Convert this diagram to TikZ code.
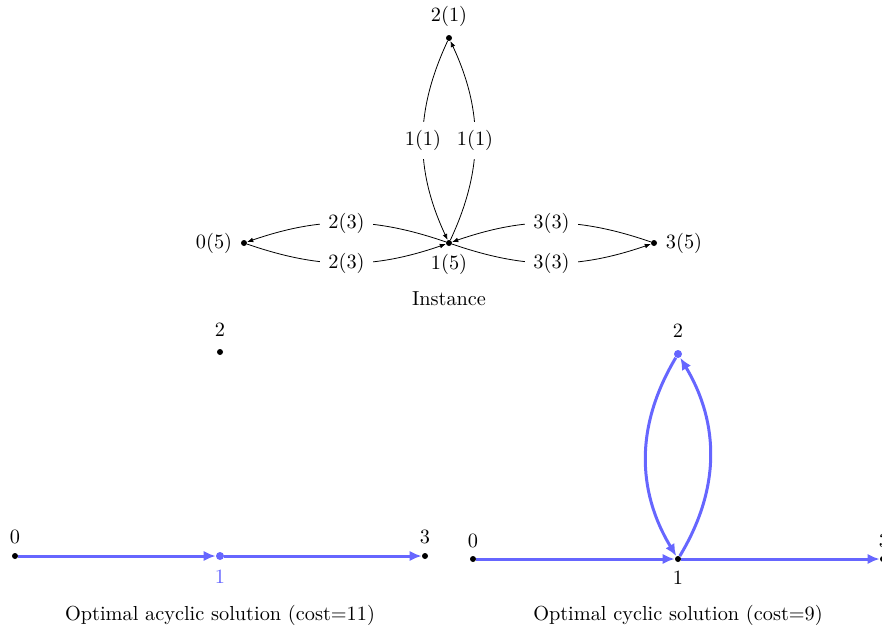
\documentclass[tikz,border=0pt]{standalone}
\usetikzlibrary{arrows.meta,backgrounds}
\definecolor{solblue}{RGB}{102,102,255}
\begin{document}
\begin{tikzpicture}[x=0.5pt,y=-0.5pt,font=\fontsize{10.15}{12}\selectfont,
  dot/.style={circle,fill=black,inner sep=0pt,minimum size=3pt},
  bdot/.style={circle,fill=solblue,inner sep=0pt,minimum size=4pt},
  txt/.style={inner sep=0pt},
  inst/.style={-{Latex[length=3pt,width=2.4pt]}},
  elbl/.style={fill=white,inner sep=4pt},
  sol/.style={solblue,line width=1.5pt,-{Latex[length=6pt,width=5.2pt]}}]
\useasboundingbox (0,0) rectangle (882,632);
% Instance
\node[dot] (n0) at (244,243) {};
\node[dot] (n1) at (449,243) {};
\node[dot] (n2) at (449,38) {};
\node[dot] (n3) at (654,243) {};
\node[txt] (t0) at (214,243) {0(5)};
\node[txt] (t1) at (449,264) {1(5)};
\node[txt] (t2) at (449,16) {2(1)};
\node[txt] (t3) at (684,243) {3(5)};
\node[txt] (cap1) at (449,299) {Instance};
\begin{pgfonlayer}{background}
\draw[inst] (n2) to[bend right=25] node[elbl]{1(1)} (n1);
\draw[inst] (n1) to[bend right=25] node[elbl]{1(1)} (n2);
\draw[inst] (n1) to[bend right=19] node[elbl]{2(3)} (n0);
\draw[inst] (n0) to[bend right=19] node[elbl]{2(3)} (n1);
\draw[inst] (n3) to[bend right=19] node[elbl]{3(3)} (n1);
\draw[inst] (n1) to[bend right=19] node[elbl]{3(3)} (n3);
\end{pgfonlayer}
% Acyclic solution
\node[dot] (a0) at (15,556) {};
\node[bdot] (a1) at (220,556) {};
\node[dot] (a2) at (220,352) {};
\node[dot] (a3) at (425,556) {};
\node[txt] (s0) at (15,537) {0};
\node[txt,text=solblue] (s1) at (220,577) {1};
\node[txt] (s2) at (220,330) {2};
\node[txt] (s3) at (425,537) {3};
\node[txt] (cap2) at (220,615) {Optimal acyclic solution (cost=11)};
\begin{pgfonlayer}{background}
\draw[sol] (a0) -- (a1);
\draw[sol] (a1) -- (a3);
\end{pgfonlayer}
% Cyclic solution
\node[dot] (b0) at (473,559) {};
\node[dot] (b1) at (678,559) {};
\node[bdot] (b2) at (678,354) {};
\node[dot] (b3) at (883,559) {};
\node[txt] (r0) at (473,541) {0};
\node[txt] (r1) at (678,578) {1};
\node[txt] (r2) at (678,331) {2};
\node[txt] (r3) at (884,541) {3};
\node[txt] (cap3) at (678,615) {Optimal cyclic solution (cost=9)};
\begin{pgfonlayer}{background}
\draw[sol] (b0) -- (b1);
\draw[sol] (b1) -- (b3);
\draw[sol] (b2) to[bend right=31] (b1);
\draw[sol] (b1) to[bend right=31] (b2);
\end{pgfonlayer}
\end{tikzpicture}
\end{document}
